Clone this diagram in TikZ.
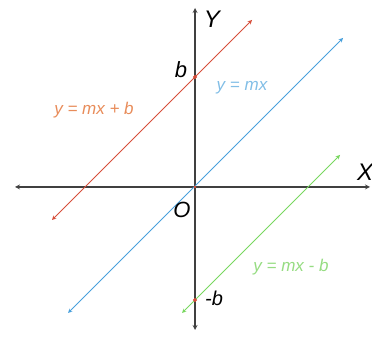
\documentclass[tikz,border=0pt]{standalone}
\usepackage{fontspec}
\setmainfont{Liberation Sans}
\usetikzlibrary{arrows,calc,positioning}

\definecolor{redline}{RGB}{214,78,58}
\definecolor{redtext}{RGB}{232,140,90}
\definecolor{blueline}{RGB}{72,160,220}
\definecolor{bluetext}{RGB}{130,190,230}
\definecolor{greenline}{RGB}{120,215,95}
\definecolor{greentext}{RGB}{150,220,130}

\begin{document}
\begin{tikzpicture}[x=1pt, y=1pt, >=stealth]
\useasboundingbox (0,0) rectangle (372,337);

\coordinate (origin) at (195, 150);
\coordinate (xleft) at (15, 150);
\coordinate (xright) at (370, 150);
\coordinate (ybottom) at (195, 7);
\coordinate (ytop) at (195, 329);

\draw [<->, line width=1.2pt, black!75] (xleft) to (xright);
\draw [<->, line width=1.2pt, black!75] (ybottom) to (ytop);

\coordinate (bpos) at (195, 260);
\coordinate (bneg) at (195, 37);

% the three parallel lines
\coordinate (redlow) at (52, 117);
\coordinate (redhigh) at (252, 317);
\draw [<->, line width=0.9pt, redline] (redlow) to (redhigh);

\coordinate (bluelow) at (68, 24);
\coordinate (bluehigh) at (343, 299);
\draw [<->, line width=0.9pt, blueline] (bluelow) to (bluehigh);

\coordinate (greenlow) at (182, 24);
\coordinate (greenhigh) at (340, 182);
\draw [<->, line width=0.9pt, greenline] (greenlow) to (greenhigh);

\filldraw [redline] (bpos) circle [radius=1.8pt];
\filldraw [redline] (bneg) circle [radius=1.8pt];
\filldraw [redline] (origin) circle [radius=1.2pt];

\node (ylabel) at ($(ytop) + (17,-11)$) {\fontsize{24}{24}\selectfont\itshape Y};
\node (xlabel) at ($(xright) + (-5,15)$) {\fontsize{24}{24}\selectfont\itshape X};
\node (blabel) at ($(bpos) + (-14,7)$) {\fontsize{22}{22}\selectfont\itshape b};
\node (olabel) at ($(origin) + (-13,-23)$) {\fontsize{22}{22}\selectfont\itshape O};
\node (nblabel) at ($(bneg) + (19,2)$) {\fontsize{20}{20}\selectfont\itshape -b};

\node [redtext] (redeq) at (94, 227) {\fontsize{17}{17}\selectfont\itshape y = mx + b};
\node [bluetext] (blueeq) at (242, 249) {\fontsize{17}{17}\selectfont\itshape y = mx};
\node [greentext] (greeneq) at (291, 70) {\fontsize{17}{17}\selectfont\itshape y = mx - b};
\end{tikzpicture}
\end{document}
